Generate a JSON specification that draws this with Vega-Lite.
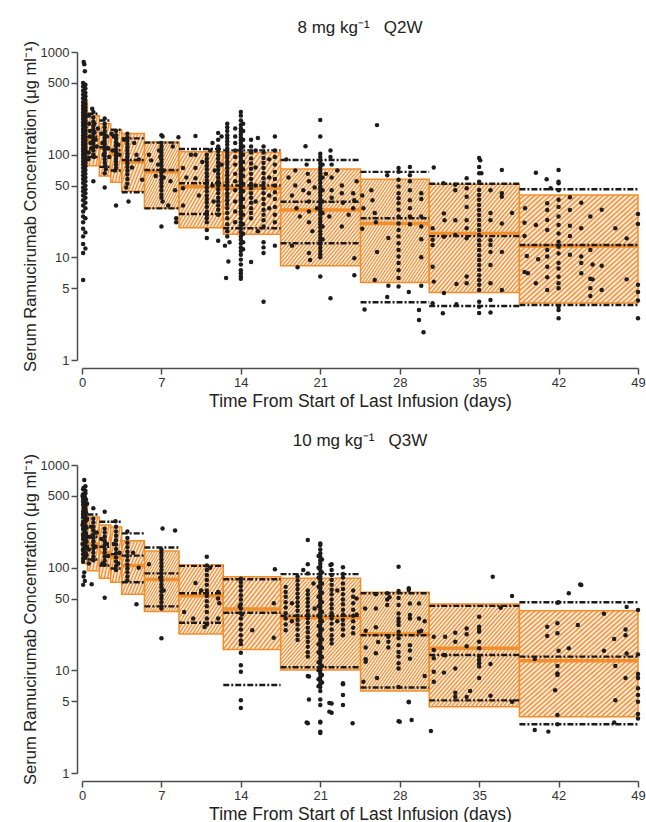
{
"$schema": "https://vega.github.io/schema/vega-lite/v6.json",
"padding": {"left": 22, "top": 18, "right": 5, "bottom": 0},
"spacing": 21,
"config": {
 "view": {"stroke": null},
 "axis": {"grid": false, "domainColor": "#4d4d4d", "domainWidth": 1.5, "tickColor": "#4d4d4d", "tickWidth": 1.5, "tickSize": 6, "labelFont": "Liberation Sans", "labelFontSize": 13, "labelColor": "#333333", "labelPadding": 2, "labelOverlap": false, "labelFlush": false, "titleFont": "Liberation Sans", "titleFontWeight": "normal", "titleColor": "#222222", "titlePadding": 5},
 "axisX": {"titleFontSize": 17.5, "titlePadding": 3},
 "axisY": {"titleFontSize": 16.5, "titlePadding": 2},
 "title": {"font": "Liberation Sans", "fontSize": 17, "fontWeight": "normal", "color": "#222222", "offset": 4, "anchor": "middle"}
},
"datasets": {
 "box1": [
  {"t0":0,"t1":0.48,"lo":90,"hi":330,"med":200},
  {"t0":0.48,"t1":1.53,"lo":78,"hi":240,"med":140},
  {"t0":1.53,"t1":2.53,"lo":62,"hi":200,"med":115},
  {"t0":2.53,"t1":3.5,"lo":54,"hi":175,"med":100},
  {"t0":3.5,"t1":5.5,"lo":44,"hi":161,"med":85},
  {"t0":5.5,"t1":8.55,"lo":30,"hi":133,"med":68},
  {"t0":8.55,"t1":12.45,"lo":19.4,"hi":107,"med":48.7},
  {"t0":12.45,"t1":17.5,"lo":16.8,"hi":105,"med":47},
  {"t0":17.5,"t1":24.55,"lo":8.3,"hi":72.5,"med":28.9},
  {"t0":24.55,"t1":30.6,"lo":5.7,"hi":57.5,"med":21.4},
  {"t0":30.6,"t1":38.55,"lo":4.55,"hi":51.6,"med":17.1},
  {"t0":38.55,"t1":49,"lo":3.6,"hi":40.5,"med":12.9}
 ],
 "obs1": [
  {"t0":0.48,"t1":1.53,"p5":95,"p50":150,"p95":250},
  {"t0":1.53,"t1":2.53,"p5":76,"p50":118,"p95":215},
  {"t0":2.53,"t1":3.5,"p5":70,"p50":110,"p95":175},
  {"t0":3.5,"t1":5.5,"p5":43,"p50":88.7,"p95":144},
  {"t0":5.5,"t1":8.55,"p5":30,"p50":71,"p95":131},
  {"t0":8.55,"t1":12.45,"p5":26.4,"p50":52.6,"p95":113.5},
  {"t0":12.45,"t1":17.5,"p5":19.2,"p50":50,"p95":110},
  {"t0":17.5,"t1":24.55,"p5":13.7,"p50":34.8,"p95":88.7},
  {"t0":24.55,"t1":30.6,"p5":3.65,"p50":24,"p95":68},
  {"t0":30.6,"t1":38.55,"p5":3.36,"p50":16.1,"p95":52},
  {"t0":38.55,"t1":49,"p5":3.43,"p50":13.2,"p95":46}
 ],
 "box2": [
  {"t0":0,"t1":0.48,"lo":110,"hi":450,"med":250},
  {"t0":0.48,"t1":1.53,"lo":93.5,"hi":311,"med":170},
  {"t0":1.53,"t1":2.53,"lo":79,"hi":260,"med":140},
  {"t0":2.53,"t1":3.5,"lo":72,"hi":249,"med":125},
  {"t0":3.5,"t1":5.5,"lo":55,"hi":183,"med":105},
  {"t0":5.5,"t1":8.55,"lo":37.5,"hi":145,"med":76.5},
  {"t0":8.55,"t1":12.45,"lo":22.6,"hi":106,"med":53.3},
  {"t0":12.45,"t1":17.5,"lo":16,"hi":81.6,"med":39.6},
  {"t0":17.5,"t1":24.55,"lo":10.1,"hi":78.7,"med":32.5},
  {"t0":24.55,"t1":30.6,"lo":6.3,"hi":57.5,"med":22.6},
  {"t0":30.6,"t1":38.55,"lo":4.43,"hi":44.2,"med":16.4},
  {"t0":38.55,"t1":49,"lo":3.54,"hi":38.1,"med":12.4}
 ],
 "obs2": [
  {"t0":0.48,"t1":1.53,"p5":120,"p50":200,"p95":330},
  {"t0":1.53,"t1":2.53,"p5":105,"p50":160,"p95":280},
  {"t0":2.53,"t1":3.5,"p5":98,"p50":135,"p95":280},
  {"t0":3.5,"t1":5.5,"p5":72,"p50":131,"p95":216},
  {"t0":5.5,"t1":8.55,"p5":42,"p50":88,"p95":157},
  {"t0":8.55,"t1":12.45,"p5":29.1,"p50":56.3,"p95":104},
  {"t0":12.45,"t1":17.5,"p5":7.2,"p50":36.4,"p95":77},
  {"t0":17.5,"t1":24.55,"p5":10.7,"p50":34,"p95":86.5},
  {"t0":24.55,"t1":30.6,"p5":6.8,"p50":22,"p95":56.3},
  {"t0":30.6,"t1":38.55,"p5":5.1,"p50":14.1,"p95":42.4},
  {"t0":38.55,"t1":49,"p5":2.98,"p50":13.6,"p95":46}
 ],
 "pts1": [
  {"t":0.15,"c":800},{"t":0.2,"c":760},{"t":0.25,"c":650},
  {"t":0.1,"c":500},{"t":0.1,"c":460},{"t":0.1,"c":420},{"t":0.1,"c":385},{"t":0.1,"c":355},{"t":0.1,"c":325},{"t":0.1,"c":300},{"t":0.1,"c":278},{"t":0.1,"c":258},{"t":0.1,"c":240},{"t":0.1,"c":222},{"t":0.1,"c":206},{"t":0.1,"c":192},{"t":0.1,"c":178},{"t":0.1,"c":166},{"t":0.1,"c":154},{"t":0.1,"c":143},{"t":0.1,"c":133},{"t":0.1,"c":124},{"t":0.1,"c":115},{"t":0.1,"c":107},{"t":0.1,"c":100},{"t":0.1,"c":93},{"t":0.1,"c":86},{"t":0.1,"c":80},{"t":0.1,"c":74},{"t":0.1,"c":68},{"t":0.1,"c":63},{"t":0.1,"c":58},{"t":0.1,"c":53},{"t":0.1,"c":48},{"t":0.1,"c":44},{"t":0.1,"c":40},{"t":0.1,"c":36},{"t":0.1,"c":32},{"t":0.1,"c":28},{"t":0.1,"c":25},{"t":0.1,"c":22},{"t":0.1,"c":19},{"t":0.1,"c":16},{"t":0.1,"c":13.5},{"t":0.1,"c":11},{"t":0.1,"c":6},
  {"t":0.3,"c":480},{"t":0.3,"c":440},{"t":0.3,"c":400},{"t":0.3,"c":370},{"t":0.3,"c":340},{"t":0.3,"c":312},{"t":0.3,"c":288},{"t":0.3,"c":268},{"t":0.3,"c":249},{"t":0.3,"c":231},{"t":0.3,"c":214},{"t":0.3,"c":199},{"t":0.3,"c":185},{"t":0.3,"c":172},{"t":0.3,"c":160},{"t":0.3,"c":148},{"t":0.3,"c":138},{"t":0.3,"c":128},{"t":0.3,"c":119},{"t":0.3,"c":111},{"t":0.3,"c":103},{"t":0.3,"c":96},{"t":0.3,"c":89},{"t":0.3,"c":83},{"t":0.3,"c":77},{"t":0.3,"c":71},{"t":0.3,"c":65},{"t":0.3,"c":60},{"t":0.3,"c":55},{"t":0.3,"c":50},{"t":0.3,"c":46},{"t":0.3,"c":42},{"t":0.3,"c":38},{"t":0.3,"c":34},{"t":0.3,"c":30},{"t":0.3,"c":24},{"t":0.3,"c":17.5},{"t":0.3,"c":12.2},
  {"t":0.6,"c":240},{"t":0.65,"c":200},{"t":0.7,"c":170},{"t":0.7,"c":150},{"t":0.75,"c":130},{"t":0.8,"c":115},{"t":0.6,"c":105},{"t":0.9,"c":280},{"t":1.0,"c":260},{"t":1.0,"c":230},{"t":1.0,"c":210},{"t":1.0,"c":190},{"t":1.0,"c":175},{"t":1.0,"c":160},{"t":1.0,"c":148},{"t":1.0,"c":138},{"t":1.0,"c":128},{"t":1.0,"c":118},{"t":1.0,"c":110},{"t":1.0,"c":100},{"t":1.05,"c":95},{"t":1.1,"c":200},{"t":1.1,"c":165},{"t":1.2,"c":140},{"t":1.3,"c":120},{"t":1.0,"c":55},{"t":1.4,"c":180},{"t":0.55,"c":90},
  {"t":2.0,"c":225},{"t":2.0,"c":200},{"t":2.0,"c":185},{"t":2.0,"c":170},{"t":2.0,"c":158},{"t":2.0,"c":147},{"t":2.0,"c":137},{"t":2.0,"c":128},{"t":2.0,"c":120},{"t":2.0,"c":112},{"t":2.0,"c":104},{"t":2.0,"c":97},{"t":2.0,"c":90},{"t":2.0,"c":84},{"t":2.05,"c":78},{"t":2.1,"c":72},{"t":2.0,"c":66},{"t":2.0,"c":48},{"t":1.7,"c":160},{"t":1.8,"c":130},{"t":2.3,"c":115},{"t":2.4,"c":95},{"t":1.9,"c":100},{"t":2.2,"c":150},
  {"t":3.0,"c":170},{"t":3.0,"c":155},{"t":3.0,"c":143},{"t":3.0,"c":132},{"t":3.0,"c":122},{"t":3.0,"c":113},{"t":3.0,"c":105},{"t":3.0,"c":98},{"t":3.0,"c":92},{"t":3.0,"c":86},{"t":3.0,"c":80},{"t":3.0,"c":74},{"t":2.9,"c":70},{"t":2.8,"c":150},{"t":3.2,"c":125},{"t":3.3,"c":100},{"t":2.7,"c":110},{"t":3.0,"c":32},{"t":2.6,"c":160},
  {"t":4.0,"c":160},{"t":4.0,"c":148},{"t":4.0,"c":137},{"t":4.0,"c":127},{"t":4.0,"c":118},{"t":4.0,"c":110},{"t":4.0,"c":102},{"t":4.0,"c":95},{"t":4.0,"c":88},{"t":4.0,"c":82},{"t":4.0,"c":76},{"t":4.0,"c":70},{"t":4.0,"c":64},{"t":4.0,"c":58},{"t":4.0,"c":52},{"t":3.9,"c":48},{"t":4.1,"c":35},{"t":4.6,"c":130},{"t":4.8,"c":100},{"t":5.0,"c":90},{"t":5.3,"c":57},{"t":4.4,"c":75},{"t":3.7,"c":140},
  {"t":7.0,"c":155},{"t":7.1,"c":150},{"t":7.0,"c":130},{"t":7.0,"c":120},{"t":7.0,"c":112},{"t":7.0,"c":104},{"t":7.0,"c":97},{"t":7.0,"c":90},{"t":7.0,"c":84},{"t":7.0,"c":78},{"t":7.0,"c":72},{"t":7.0,"c":67},{"t":7.0,"c":62},{"t":7.0,"c":57},{"t":7.0,"c":53},{"t":7.0,"c":49},{"t":7.0,"c":45},{"t":7.0,"c":41},{"t":7.0,"c":38},{"t":7.1,"c":35},{"t":7.0,"c":20},{"t":6.8,"c":110},{"t":6.9,"c":95},{"t":7.2,"c":70},{"t":7.2,"c":60},{"t":5.9,"c":100},{"t":6.1,"c":88},{"t":6.5,"c":62},{"t":6.7,"c":80},{"t":8.3,"c":24},{"t":8.3,"c":22},{"t":8.5,"c":148},{"t":8.0,"c":120},{"t":7.8,"c":55},{"t":7.6,"c":32},{"t":8.2,"c":45},
  {"t":8.9,"c":74},{"t":8.9,"c":47},{"t":8.9,"c":32},{"t":9.2,"c":60},{"t":9.6,"c":100},{"t":10.0,"c":152},{"t":10.0,"c":100},{"t":10.0,"c":74},{"t":10.0,"c":59},{"t":10.3,"c":40},{"t":10.6,"c":85},
  {"t":11.0,"c":100},{"t":11.0,"c":92},{"t":11.0,"c":85},{"t":11.0,"c":78},{"t":11.0,"c":72},{"t":11.0,"c":66},{"t":11.0,"c":61},{"t":11.0,"c":56},{"t":11.0,"c":52},{"t":11.0,"c":48},{"t":11.0,"c":44},{"t":11.0,"c":40},{"t":11.0,"c":37},{"t":11.0,"c":34},{"t":11.0,"c":31},{"t":11.0,"c":28},{"t":11.0,"c":26},{"t":11.0,"c":24},{"t":11.0,"c":22},{"t":11.0,"c":18.5},{"t":11.0,"c":15.4},
  {"t":12.0,"c":163},{"t":12.0,"c":140},{"t":12.0,"c":120},{"t":12.0,"c":108},{"t":12.0,"c":99},{"t":12.0,"c":91},{"t":12.0,"c":84},{"t":12.0,"c":77},{"t":12.0,"c":71},{"t":12.0,"c":65},{"t":12.0,"c":60},{"t":12.0,"c":55},{"t":12.0,"c":50},{"t":12.0,"c":46},{"t":12.0,"c":42},{"t":12.0,"c":38},{"t":12.0,"c":35},{"t":12.0,"c":32},{"t":12.0,"c":29},{"t":12.0,"c":26},
  {"t":11.5,"c":130},{"t":11.5,"c":50},{"t":11.6,"c":35},{"t":12.3,"c":150},{"t":12.3,"c":80},{"t":11.3,"c":110},{"t":11.7,"c":70},{"t":12.0,"c":14.5},
  {"t":12.8,"c":200},{"t":12.8,"c":185},{"t":12.8,"c":170},{"t":12.8,"c":155},{"t":12.8,"c":145},{"t":12.8,"c":135},{"t":12.8,"c":125},{"t":12.8,"c":115},{"t":12.8,"c":107},{"t":12.8,"c":100},{"t":12.8,"c":93},{"t":12.8,"c":86},{"t":12.8,"c":80},{"t":12.8,"c":74},{"t":12.8,"c":68},{"t":12.8,"c":63},{"t":12.8,"c":58},{"t":12.8,"c":54},{"t":12.8,"c":50},{"t":12.8,"c":46},{"t":12.8,"c":42},{"t":12.8,"c":39},{"t":12.8,"c":36},{"t":12.8,"c":33},{"t":12.8,"c":30},{"t":12.8,"c":27},{"t":12.8,"c":24},{"t":12.8,"c":21},{"t":12.8,"c":18},{"t":12.8,"c":16},
  {"t":12.9,"c":9.1},{"t":12.7,"c":6.3},{"t":12.6,"c":13},{"t":13.0,"c":14},
  {"t":13.5,"c":180},{"t":13.5,"c":150},{"t":13.5,"c":130},{"t":13.5,"c":110},{"t":13.5,"c":95},{"t":13.5,"c":80},{"t":13.5,"c":65},{"t":13.5,"c":55},{"t":13.5,"c":45},{"t":13.5,"c":35},{"t":13.5,"c":28},{"t":13.5,"c":22},
  {"t":14.0,"c":260},{"t":14.0,"c":240},{"t":14.0,"c":215},{"t":14.0,"c":195},{"t":14.0,"c":180},{"t":14.0,"c":168},{"t":14.0,"c":157},{"t":14.0,"c":147},{"t":14.0,"c":138},{"t":14.0,"c":130},{"t":14.0,"c":122},{"t":14.0,"c":115},{"t":14.0,"c":108},{"t":14.0,"c":102},{"t":14.0,"c":96},{"t":14.0,"c":91},{"t":14.0,"c":86},{"t":14.0,"c":81},{"t":14.0,"c":77},{"t":14.0,"c":73},{"t":14.0,"c":69},{"t":14.0,"c":65},{"t":14.0,"c":61},{"t":14.0,"c":58},{"t":14.0,"c":55},{"t":14.0,"c":52},{"t":14.0,"c":49},{"t":14.0,"c":46},{"t":14.0,"c":43},{"t":14.0,"c":40},{"t":14.0,"c":38},{"t":14.0,"c":36},{"t":14.0,"c":34},{"t":14.0,"c":32},{"t":14.0,"c":30},{"t":14.0,"c":28},{"t":14.0,"c":26},{"t":14.0,"c":24},{"t":14.0,"c":22},{"t":14.0,"c":20.5},{"t":14.0,"c":19},{"t":14.0,"c":17.5},{"t":14.0,"c":16},{"t":14.0,"c":14.8},{"t":14.0,"c":13.6},{"t":14.0,"c":12.5},{"t":14.0,"c":11.5},{"t":14.0,"c":10.6},{"t":14.0,"c":9.5},{"t":14.0,"c":8.5},{"t":14.0,"c":7.5},{"t":14.0,"c":7.0},{"t":14.0,"c":6.5},{"t":14.0,"c":6.2},
  {"t":14.2,"c":200},{"t":14.2,"c":170},{"t":14.2,"c":140},{"t":14.2,"c":120},{"t":14.2,"c":100},{"t":14.2,"c":85},{"t":14.2,"c":72},{"t":14.2,"c":62},{"t":14.2,"c":52},{"t":14.2,"c":44},{"t":14.2,"c":37},{"t":14.2,"c":31},{"t":14.2,"c":26},{"t":14.2,"c":21},{"t":14.2,"c":17},{"t":14.2,"c":14},{"t":14.2,"c":12},
  {"t":14.9,"c":140},{"t":14.9,"c":120},{"t":14.9,"c":105},{"t":14.9,"c":92},{"t":14.9,"c":82},{"t":14.9,"c":73},{"t":14.9,"c":65},{"t":14.9,"c":58},{"t":14.9,"c":52},{"t":14.9,"c":47},{"t":14.9,"c":42},{"t":14.9,"c":38},{"t":14.9,"c":34},{"t":14.9,"c":30},{"t":14.9,"c":27},{"t":14.9,"c":24},{"t":14.9,"c":9},
  {"t":15.3,"c":110},{"t":15.3,"c":75},{"t":15.3,"c":50},{"t":15.3,"c":35},{"t":15.5,"c":145},{"t":15.5,"c":18},
  {"t":16.0,"c":120},{"t":16.0,"c":105},{"t":16.0,"c":93},{"t":16.0,"c":83},{"t":16.0,"c":74},{"t":16.0,"c":66},{"t":16.0,"c":59},{"t":16.0,"c":53},{"t":16.0,"c":47},{"t":16.0,"c":42},{"t":16.0,"c":37},{"t":16.0,"c":33},{"t":16.0,"c":29},{"t":16.0,"c":26},{"t":16.0,"c":23},{"t":16.0,"c":20},{"t":16.0,"c":14},{"t":16.0,"c":12.5},{"t":16.0,"c":11},{"t":16.0,"c":3.7},
  {"t":16.5,"c":90},{"t":16.5,"c":60},{"t":16.5,"c":40},{"t":16.5,"c":30},
  {"t":17.0,"c":150},{"t":17.0,"c":110},{"t":17.0,"c":95},{"t":17.0,"c":80},{"t":17.0,"c":68},{"t":17.0,"c":58},{"t":17.0,"c":50},{"t":17.0,"c":43},{"t":17.0,"c":37},{"t":17.0,"c":31},{"t":17.0,"c":26},{"t":17.0,"c":22},{"t":17.0,"c":13},
  {"t":18.0,"c":90},{"t":18.2,"c":60},{"t":18.5,"c":40},{"t":18.8,"c":70},{"t":18.8,"c":50},{"t":18.9,"c":30},{"t":19.2,"c":25},{"t":19.5,"c":45},{"t":19.7,"c":121},{"t":19.8,"c":80},{"t":19.9,"c":65},{"t":20.0,"c":55},{"t":20.0,"c":42},{"t":20.0,"c":35},{"t":20.0,"c":28},{"t":20.0,"c":22},{"t":20.0,"c":11},{"t":20.1,"c":9.4},{"t":20.3,"c":18},{"t":20.5,"c":48},
  {"t":21.0,"c":218},{"t":21.0,"c":150},{"t":21.0,"c":102},{"t":21.0,"c":95},{"t":21.0,"c":88},{"t":21.0,"c":82},{"t":21.0,"c":76},{"t":21.0,"c":71},{"t":21.0,"c":66},{"t":21.0,"c":61},{"t":21.0,"c":57},{"t":21.0,"c":53},{"t":21.0,"c":49},{"t":21.0,"c":46},{"t":21.0,"c":43},{"t":21.0,"c":40},{"t":21.0,"c":37},{"t":21.0,"c":34},{"t":21.0,"c":32},{"t":21.0,"c":30},{"t":21.0,"c":28},{"t":21.0,"c":26},{"t":21.0,"c":24},{"t":21.0,"c":22.5},{"t":21.0,"c":21},{"t":21.0,"c":19.5},{"t":21.0,"c":18},{"t":21.0,"c":16.7},{"t":21.0,"c":15.5},{"t":21.0,"c":14.4},{"t":21.0,"c":13.4},{"t":21.0,"c":12.4},{"t":21.0,"c":11.5},{"t":21.0,"c":10.7},{"t":21.0,"c":10},{"t":21.0,"c":6.5},
  {"t":21.2,"c":80},{"t":21.2,"c":60},{"t":21.2,"c":45},{"t":21.2,"c":35},{"t":21.2,"c":27},{"t":21.2,"c":20},{"t":21.2,"c":15},
  {"t":21.9,"c":110},{"t":21.9,"c":95},{"t":22.0,"c":80},{"t":22.0,"c":60},{"t":22.0,"c":45},{"t":22.0,"c":38},{"t":21.9,"c":4.0},{"t":21.8,"c":25},{"t":22.9,"c":50},{"t":22.9,"c":42},{"t":23.0,"c":34},{"t":22.9,"c":20},{"t":23.9,"c":42},{"t":24.0,"c":36},{"t":23.9,"c":30},{"t":24.0,"c":6.7},{"t":24.0,"c":9.8},{"t":23.5,"c":26},{"t":22.5,"c":70},{"t":24.2,"c":55},{"t":21.5,"c":65},{"t":20.7,"c":30},{"t":18.5,"c":13},{"t":19.0,"c":8},
  {"t":24.7,"c":40},{"t":24.8,"c":30},{"t":24.7,"c":19},{"t":24.9,"c":3.1},{"t":25.5,"c":45},{"t":25.6,"c":36},{"t":25.8,"c":27},{"t":25.9,"c":22},{"t":26.0,"c":11.3},{"t":25.8,"c":6.0},{"t":26.0,"c":194},{"t":26.9,"c":63},{"t":27.0,"c":15.4},{"t":27.0,"c":5.3},{"t":26.9,"c":4.1},
  {"t":27.9,"c":74},{"t":27.9,"c":68},{"t":27.9,"c":57},{"t":27.9,"c":49},{"t":27.9,"c":42},{"t":27.9,"c":37.6},{"t":27.9,"c":33.6},{"t":27.9,"c":29},{"t":27.9,"c":25},{"t":27.9,"c":21.4},{"t":27.9,"c":18.5},{"t":27.9,"c":16},{"t":27.9,"c":13.7},{"t":27.9,"c":11.8},{"t":27.9,"c":10.2},{"t":27.9,"c":8.8},{"t":27.9,"c":7.5},{"t":27.9,"c":6.3},{"t":27.9,"c":5.2},
  {"t":28.9,"c":76},{"t":28.9,"c":63},{"t":28.9,"c":55},{"t":28.9,"c":45},{"t":28.9,"c":36},{"t":28.9,"c":30},{"t":28.9,"c":25},{"t":28.9,"c":21},{"t":28.8,"c":4.6},{"t":29.7,"c":3.07},{"t":29.7,"c":2.45},{"t":30.1,"c":1.86},
  {"t":29.9,"c":42},{"t":29.9,"c":37},{"t":29.9,"c":25},{"t":29.9,"c":20},{"t":29.9,"c":15},{"t":29.9,"c":10},{"t":29.9,"c":5.3},
  {"t":31.0,"c":75},{"t":30.9,"c":19.2},{"t":30.9,"c":14.8},{"t":30.9,"c":13.2},{"t":30.9,"c":8.1},{"t":31.0,"c":5.8},{"t":30.9,"c":3.57},{"t":31.85,"c":52.6},{"t":31.9,"c":26.8},{"t":31.95,"c":23},{"t":31.9,"c":15.9},{"t":31.9,"c":4.5},{"t":31.8,"c":2.85},{"t":32.9,"c":51},{"t":32.9,"c":45},{"t":32.9,"c":23},{"t":32.9,"c":16.5},{"t":33.0,"c":5.5},{"t":33.0,"c":3.5},
  {"t":33.9,"c":58.8},{"t":33.9,"c":47},{"t":33.9,"c":39},{"t":33.9,"c":31},{"t":33.9,"c":23},{"t":33.9,"c":19.2},{"t":33.9,"c":15.3},{"t":33.9,"c":6.5},{"t":33.9,"c":5.6},
  {"t":35.0,"c":93},{"t":35.0,"c":76},{"t":35.0,"c":65.8},{"t":35.0,"c":54.6},{"t":35.0,"c":45.2},{"t":35.0,"c":40.4},{"t":35.0,"c":36.3},{"t":35.0,"c":32.3},{"t":35.0,"c":28.9},{"t":35.0,"c":25.9},{"t":35.0,"c":23.1},{"t":35.0,"c":20.7},{"t":35.0,"c":18.5},{"t":35.0,"c":16.5},{"t":35.0,"c":14.7},{"t":35.0,"c":13.2},{"t":35.0,"c":11.8},{"t":35.0,"c":10.5},{"t":35.0,"c":9.4},{"t":35.0,"c":8.4},{"t":35.0,"c":7.55},{"t":35.0,"c":6.7},{"t":35.0,"c":6.0},{"t":35.0,"c":5.4},{"t":35.0,"c":4.8},{"t":35.0,"c":3.7},{"t":35.0,"c":3.3},{"t":35.0,"c":2.87},
  {"t":36.0,"c":45},{"t":36.0,"c":27},{"t":36.0,"c":23},{"t":36.0,"c":14.7},{"t":36.0,"c":13.2},{"t":36.0,"c":11.3},{"t":36.0,"c":8.4},{"t":36.0,"c":5.6},{"t":36.0,"c":3.84},{"t":36.0,"c":2.9},
  {"t":37.0,"c":71},{"t":37.0,"c":42},{"t":37.0,"c":39},{"t":37.0,"c":21.4},{"t":37.0,"c":11.3},{"t":37.0,"c":4.8},{"t":37.9,"c":27},{"t":35.2,"c":66},{"t":35.1,"c":88},
  {"t":39.05,"c":30},{"t":39.0,"c":21.7},{"t":39.0,"c":16.1},{"t":39.0,"c":7.2},{"t":39.3,"c":7.0},{"t":39.2,"c":10.3},{"t":40.0,"c":66.7},{"t":40.0,"c":20.7},{"t":40.0,"c":5.6},{"t":40.2,"c":9.6},{"t":40.95,"c":57.7},
  {"t":41.0,"c":33.6},{"t":41.0,"c":28.9},{"t":41.0,"c":23.1},{"t":41.0,"c":18.5},{"t":41.0,"c":11.8},{"t":41.0,"c":10.2},{"t":41.0,"c":8.1},{"t":41.0,"c":6.4},{"t":41.0,"c":4.8},
  {"t":42.0,"c":71},{"t":42.0,"c":54.6},{"t":42.0,"c":45},{"t":42.0,"c":36.3},{"t":42.0,"c":31},{"t":42.0,"c":25},{"t":42.0,"c":20.7},{"t":42.0,"c":17.1},{"t":42.0,"c":14.2},{"t":42.0,"c":12.7},{"t":42.0,"c":10.9},{"t":42.0,"c":8.8},{"t":42.0,"c":7.8},{"t":42.0,"c":6.47},{"t":42.0,"c":5.6},{"t":42.0,"c":5.0},{"t":42.0,"c":3.3},{"t":42.0,"c":3.07},{"t":42.0,"c":2.55},{"t":42.0,"c":52.6},
  {"t":43.0,"c":38.4},{"t":43.0,"c":28.9},{"t":43.0,"c":20.3},{"t":43.0,"c":16.1},{"t":43.0,"c":10.6},
  {"t":44.0,"c":34},{"t":44.0,"c":19.2},{"t":44.0,"c":10.2},{"t":44.0,"c":8.8},{"t":44.0,"c":7.0},
  {"t":44.8,"c":25},{"t":44.8,"c":11.8},{"t":44.8,"c":6.2},{"t":44.8,"c":5.0},{"t":44.8,"c":4.2},
  {"t":45.0,"c":8.5},{"t":45.0,"c":6.1},{"t":45.8,"c":29},{"t":45.8,"c":8.3},{"t":45.8,"c":4.8},{"t":47.0,"c":19.2},{"t":48.0,"c":15.3},{"t":48.0,"c":6.1},{"t":49.0,"c":26.4},{"t":49.0,"c":21.1},{"t":49.0,"c":5.4},{"t":49.0,"c":4.6},{"t":49.0,"c":3.8},{"t":49.0,"c":2.55},{"t":41.3,"c":47}
 ],
 "pts2": [
  {"t":0.2,"c":714},{"t":0.15,"c":600},{"t":0.3,"c":560},{"t":0.1,"c":520},{"t":0.25,"c":490},{"t":0.35,"c":460},{"t":0.1,"c":440},{"t":0.2,"c":420},{"t":0.3,"c":400},{"t":0.15,"c":380},{"t":0.25,"c":360},{"t":0.35,"c":345},{"t":0.1,"c":330},{"t":0.2,"c":315},{"t":0.3,"c":300},{"t":0.4,"c":290},{"t":0.1,"c":280},{"t":0.2,"c":268},{"t":0.3,"c":256},{"t":0.4,"c":245},{"t":0.15,"c":235},{"t":0.25,"c":225},{"t":0.35,"c":215},{"t":0.1,"c":205},{"t":0.2,"c":196},{"t":0.3,"c":188},{"t":0.4,"c":180},{"t":0.15,"c":172},{"t":0.25,"c":165},{"t":0.35,"c":158},{"t":0.1,"c":151},{"t":0.2,"c":145},{"t":0.3,"c":139},{"t":0.4,"c":133},{"t":0.2,"c":128},{"t":0.1,"c":114},{"t":0.2,"c":90},{"t":0.15,"c":82},{"t":0.25,"c":74},{"t":0.1,"c":68},{"t":0.05,"c":500},{"t":0.45,"c":420},{"t":0.45,"c":300},{"t":0.45,"c":200},{"t":0.45,"c":160},{"t":0.05,"c":260},{"t":0.05,"c":170},
  {"t":0.3,"c":620},{"t":0.3,"c":530},{"t":0.3,"c":470},{"t":0.3,"c":430},{"t":0.3,"c":370},{"t":0.3,"c":325},{"t":0.3,"c":285},{"t":0.3,"c":250},{"t":0.3,"c":220},{"t":0.3,"c":195},{"t":0.3,"c":175},{"t":0.3,"c":155},{"t":0.3,"c":140},{"t":0.3,"c":125},
  {"t":0.1,"c":580},{"t":0.1,"c":470},{"t":0.1,"c":410},{"t":0.1,"c":350},{"t":0.1,"c":310},{"t":0.1,"c":272},{"t":0.1,"c":240},{"t":0.1,"c":212},{"t":0.1,"c":190},{"t":0.1,"c":168},{"t":0.1,"c":148},{"t":0.1,"c":135},{"t":0.1,"c":122},
  {"t":1.0,"c":380},{"t":1.0,"c":300},{"t":1.0,"c":275},{"t":1.0,"c":250},{"t":1.0,"c":230},{"t":1.0,"c":210},{"t":1.0,"c":195},{"t":1.0,"c":180},{"t":1.0,"c":165},{"t":1.0,"c":152},{"t":1.0,"c":140},{"t":1.0,"c":128},{"t":1.0,"c":118},{"t":0.85,"c":69},{"t":0.7,"c":200},{"t":0.6,"c":150},{"t":0.8,"c":250},{"t":1.2,"c":160},{"t":1.3,"c":220},{"t":0.6,"c":110},
  {"t":2.0,"c":350},{"t":2.0,"c":240},{"t":2.0,"c":220},{"t":2.0,"c":200},{"t":2.0,"c":182},{"t":2.0,"c":166},{"t":2.0,"c":152},{"t":2.0,"c":140},{"t":2.0,"c":128},{"t":2.0,"c":117},{"t":2.0,"c":107},{"t":2.0,"c":51},{"t":1.7,"c":190},{"t":2.3,"c":130},{"t":2.2,"c":170},{"t":1.8,"c":110},
  {"t":2.95,"c":283},{"t":3.0,"c":250},{"t":3.0,"c":225},{"t":3.0,"c":205},{"t":3.0,"c":185},{"t":3.0,"c":168},{"t":3.0,"c":152},{"t":3.0,"c":138},{"t":3.0,"c":126},{"t":3.0,"c":115},{"t":3.0,"c":104},{"t":3.0,"c":95},{"t":3.2,"c":110},{"t":2.8,"c":170},{"t":3.3,"c":140},
  {"t":4.0,"c":225},{"t":4.0,"c":195},{"t":4.0,"c":175},{"t":4.0,"c":158},{"t":4.0,"c":143},{"t":4.0,"c":130},{"t":4.0,"c":118},{"t":4.0,"c":107},{"t":4.0,"c":98},{"t":4.0,"c":90},{"t":4.0,"c":82},{"t":4.0,"c":75},{"t":4.8,"c":44},{"t":4.5,"c":140},{"t":5.0,"c":100},
  {"t":7.0,"c":150},{"t":7.0,"c":140},{"t":7.0,"c":130},{"t":7.0,"c":120},{"t":7.0,"c":111},{"t":7.0,"c":103},{"t":7.0,"c":95},{"t":7.0,"c":88},{"t":7.0,"c":81},{"t":7.0,"c":75},{"t":7.0,"c":69},{"t":7.0,"c":64},{"t":7.0,"c":59},{"t":7.0,"c":54},{"t":7.0,"c":50},{"t":7.0,"c":46},{"t":7.0,"c":42},{"t":7.0,"c":40},{"t":7.0,"c":20.5},{"t":7.1,"c":241},{"t":8.2,"c":230},{"t":5.9,"c":108},{"t":6.9,"c":80},{"t":7.2,"c":60},
  {"t":9.0,"c":37},{"t":10.0,"c":71},{"t":9.8,"c":32},{"t":11.0,"c":128},{"t":11.0,"c":105},{"t":11.0,"c":95},{"t":11.0,"c":85},{"t":11.0,"c":76},{"t":11.0,"c":68},{"t":11.0,"c":60},{"t":11.0,"c":53},{"t":11.0,"c":47},{"t":11.0,"c":42},{"t":11.0,"c":37},{"t":11.0,"c":32},{"t":11.0,"c":28},{"t":10.8,"c":26.4},{"t":12.0,"c":58},{"t":12.0,"c":50},{"t":12.0,"c":32},{"t":12.1,"c":45},{"t":11.3,"c":100},{"t":10.5,"c":60},
  {"t":14.0,"c":78},{"t":14.0,"c":72},{"t":14.0,"c":66},{"t":14.0,"c":60},{"t":14.0,"c":54},{"t":14.0,"c":49},{"t":14.0,"c":44},{"t":14.0,"c":40},{"t":14.0,"c":36},{"t":14.0,"c":32},{"t":14.0,"c":28},{"t":14.0,"c":25},{"t":14.0,"c":22},{"t":14.0,"c":19.5},{"t":14.0,"c":18},{"t":14.0,"c":14.8},{"t":14.0,"c":11.2},{"t":14.0,"c":9.7},{"t":14.0,"c":5.1},{"t":14.0,"c":4.3},{"t":15.0,"c":24.6},{"t":16.9,"c":45},{"t":16.9,"c":20.8},{"t":17.0,"c":96.7},{"t":13.9,"c":42},{"t":14.1,"c":35},
  {"t":21.0,"c":172},{"t":21.0,"c":166},{"t":21.0,"c":150},{"t":21.0,"c":138},{"t":21.0,"c":128},{"t":21.0,"c":118},{"t":21.0,"c":110},{"t":21.0,"c":102},{"t":21.0,"c":95},{"t":21.0,"c":88},{"t":21.0,"c":82},{"t":21.0,"c":77},{"t":21.0,"c":72},{"t":21.0,"c":67},{"t":21.0,"c":63},{"t":21.0,"c":59},{"t":21.0,"c":55},{"t":21.0,"c":51},{"t":21.0,"c":48},{"t":21.0,"c":45},{"t":21.0,"c":42},{"t":21.0,"c":39},{"t":21.0,"c":36.5},{"t":21.0,"c":34},{"t":21.0,"c":32},{"t":21.0,"c":30},{"t":21.0,"c":28},{"t":21.0,"c":26},{"t":21.0,"c":24.5},{"t":21.0,"c":23},{"t":21.0,"c":21.5},{"t":21.0,"c":20},{"t":21.0,"c":18.7},{"t":21.0,"c":17.5},{"t":21.0,"c":16.3},{"t":21.0,"c":15.2},{"t":21.0,"c":14.2},{"t":21.0,"c":13.2},{"t":21.0,"c":12.3},{"t":21.0,"c":11.5},{"t":21.0,"c":10.7},{"t":21.0,"c":10},{"t":21.0,"c":9.3},{"t":21.0,"c":8.6},{"t":21.0,"c":8},{"t":21.0,"c":7.4},{"t":21.0,"c":6.9},{"t":21.0,"c":6.3},{"t":21.0,"c":5.2},{"t":21.0,"c":4.6},{"t":21.0,"c":3.16},{"t":21.0,"c":3.1},{"t":21.0,"c":2.53},{"t":21.0,"c":2.45},
  {"t":20.85,"c":130},{"t":20.85,"c":100},{"t":20.85,"c":80},{"t":20.85,"c":65},{"t":20.85,"c":52},{"t":20.85,"c":42},{"t":20.85,"c":34},{"t":20.85,"c":27},{"t":20.85,"c":22},{"t":20.85,"c":18},{"t":20.85,"c":15},{"t":20.85,"c":12},{"t":20.85,"c":10},{"t":20.85,"c":8.2},{"t":20.85,"c":7},
  {"t":21.15,"c":120},{"t":21.15,"c":90},{"t":21.15,"c":70},{"t":21.15,"c":57},{"t":21.15,"c":46},{"t":21.15,"c":37},{"t":21.15,"c":30},{"t":21.15,"c":25},{"t":21.15,"c":20},{"t":21.15,"c":16.5},{"t":21.15,"c":13.5},{"t":21.15,"c":11},{"t":21.15,"c":9},{"t":21.15,"c":7.6},
  {"t":19.9,"c":186},{"t":19.9,"c":108},{"t":19.9,"c":88},{"t":19.9,"c":60},{"t":19.9,"c":55},{"t":19.9,"c":50},{"t":19.9,"c":46},{"t":19.9,"c":42},{"t":19.9,"c":38},{"t":19.9,"c":35},{"t":19.9,"c":32},{"t":19.9,"c":29},{"t":19.9,"c":26},{"t":19.9,"c":23.5},{"t":19.9,"c":21},{"t":19.9,"c":19},{"t":19.9,"c":17},{"t":19.9,"c":15},{"t":19.9,"c":13.6},{"t":19.9,"c":8.8},{"t":20.0,"c":8.7},{"t":20.0,"c":5.2},{"t":19.8,"c":3.1},{"t":19.9,"c":3.05},
  {"t":19.0,"c":82},{"t":19.0,"c":75},{"t":19.0,"c":68},{"t":19.0,"c":62},{"t":19.0,"c":56},{"t":19.0,"c":51},{"t":19.0,"c":46},{"t":19.0,"c":42},{"t":19.0,"c":38},{"t":19.0,"c":34},{"t":19.0,"c":31},{"t":19.0,"c":28},{"t":19.0,"c":25},{"t":19.0,"c":22},{"t":19.0,"c":19.8},
  {"t":17.95,"c":65},{"t":17.95,"c":58},{"t":17.95,"c":52},{"t":17.95,"c":46},{"t":17.95,"c":41},{"t":17.95,"c":36},{"t":17.95,"c":32},{"t":17.95,"c":28},{"t":17.95,"c":24.6},
  {"t":22.0,"c":108},{"t":21.9,"c":106},{"t":22.0,"c":95},{"t":22.0,"c":85},{"t":22.0,"c":76},{"t":22.0,"c":68},{"t":22.0,"c":61},{"t":22.0,"c":55},{"t":22.0,"c":49},{"t":22.0,"c":44},{"t":22.0,"c":40},{"t":22.0,"c":36},{"t":22.0,"c":32},{"t":22.0,"c":28.5},{"t":22.0,"c":25},{"t":22.0,"c":22},{"t":22.0,"c":20},{"t":22.0,"c":18.3},{"t":22.0,"c":4.76},{"t":22.0,"c":3.86},{"t":21.8,"c":4.8},{"t":21.8,"c":3.96},
  {"t":23.0,"c":101},{"t":23.0,"c":86.6},{"t":23.0,"c":80},{"t":23.0,"c":70},{"t":23.0,"c":62},{"t":23.0,"c":55},{"t":23.0,"c":49},{"t":23.0,"c":44},{"t":23.0,"c":39},{"t":23.0,"c":35},{"t":23.0,"c":31},{"t":23.0,"c":28},{"t":23.0,"c":25},{"t":23.0,"c":22},{"t":23.0,"c":7.5},{"t":23.0,"c":5.75},{"t":23.0,"c":4.6},{"t":23.0,"c":7.3},
  {"t":23.9,"c":60},{"t":23.9,"c":52},{"t":23.9,"c":45},{"t":23.9,"c":39},{"t":23.9,"c":34},{"t":23.9,"c":30},{"t":23.9,"c":26},{"t":23.9,"c":23},{"t":23.85,"c":3.05},
  {"t":18.5,"c":45},{"t":18.5,"c":30},{"t":20.4,"c":70},{"t":20.5,"c":40},{"t":22.5,"c":60},{"t":22.5,"c":30},{"t":24.2,"c":50},{"t":24.2,"c":35},{"t":19.5,"c":95},
  {"t":24.95,"c":40},{"t":25.0,"c":24.3},{"t":25.0,"c":16.7},{"t":25.0,"c":12.8},{"t":25.0,"c":12.1},{"t":24.8,"c":7.75},{"t":25.9,"c":55},{"t":25.9,"c":40},{"t":25.9,"c":26.3},{"t":25.9,"c":14.7},{"t":26.0,"c":8.4},{"t":26.1,"c":18.9},{"t":26.9,"c":56.3},{"t":26.9,"c":49},{"t":26.9,"c":43.2},{"t":27.0,"c":21.2},{"t":27.0,"c":19},{"t":27.0,"c":16.7},{"t":27.1,"c":51.4},
  {"t":27.9,"c":102},{"t":27.9,"c":59.3},{"t":27.9,"c":50.6},{"t":27.9,"c":43.2},{"t":27.9,"c":35.8},{"t":27.9,"c":32},{"t":27.9,"c":29.7},{"t":27.9,"c":27.6},{"t":27.9,"c":23.7},{"t":27.9,"c":20.5},{"t":27.9,"c":17.6},{"t":27.9,"c":15.1},{"t":27.9,"c":13.6},{"t":27.9,"c":11.7},{"t":27.9,"c":10.4},{"t":27.9,"c":6.9},{"t":27.9,"c":3.2},{"t":28.0,"c":3.16},
  {"t":28.8,"c":62.9},{"t":28.8,"c":60.5},{"t":28.9,"c":44.8},{"t":28.9,"c":34.6},{"t":28.9,"c":32},{"t":28.9,"c":17.6},{"t":28.9,"c":15.6},{"t":28.9,"c":13},{"t":28.8,"c":4.88},{"t":28.8,"c":4.95},{"t":29.05,"c":3.28},
  {"t":29.7,"c":44.8},{"t":29.7,"c":32},{"t":29.7,"c":23.7},{"t":30.2,"c":30},{"t":30.2,"c":8.8},{"t":29.9,"c":24.3},{"t":30.75,"c":2.56},
  {"t":31.0,"c":15.8},{"t":31.0,"c":13.1},{"t":31.0,"c":9.7},{"t":31.0,"c":7.75},{"t":31.0,"c":21.2},{"t":31.9,"c":9.5},{"t":32.0,"c":21.2},{"t":31.9,"c":14.1},{"t":32.0,"c":14.0},{"t":32.9,"c":19},{"t":32.9,"c":23.2},{"t":32.9,"c":10.4},{"t":32.9,"c":6.05},{"t":32.9,"c":5.5},{"t":33.9,"c":25.6},{"t":33.9,"c":22.5},{"t":33.9,"c":17.2},{"t":33.9,"c":5.5},{"t":34.2,"c":6.3},
  {"t":35.0,"c":33.2},{"t":35.0,"c":26.6},{"t":35.0,"c":24.8},{"t":35.0,"c":23.7},{"t":35.0,"c":19},{"t":35.0,"c":16.4},{"t":35.0,"c":13.6},{"t":35.0,"c":12.6},{"t":35.0,"c":11.7},{"t":35.0,"c":10.9},{"t":35.0,"c":8.4},
  {"t":36.0,"c":11.5},{"t":36.0,"c":5.65},{"t":36.2,"c":81.6},{"t":36.9,"c":40.6},{"t":37.9,"c":53},{"t":37.9,"c":4.95},
  {"t":39.9,"c":12.9},{"t":39.9,"c":2.62},{"t":41.0,"c":26.6},{"t":41.0,"c":21.6},{"t":41.1,"c":2.53},{"t":41.9,"c":45.5},{"t":41.9,"c":28.7},{"t":41.9,"c":23},{"t":41.9,"c":11},{"t":41.9,"c":9.3},{"t":41.9,"c":9.0},{"t":41.7,"c":6.4},{"t":41.9,"c":3.67},{"t":41.9,"c":2.98},{"t":42.0,"c":15.5},{"t":42.9,"c":56.3},{"t":42.9,"c":16.4},{"t":43.7,"c":27.6},{"t":44.0,"c":67.8},{"t":46.0,"c":35.5},{"t":46.0,"c":15.5},{"t":46.9,"c":20.2},{"t":47.0,"c":11},{"t":47.0,"c":5.1},{"t":46.9,"c":3.1},{"t":47.9,"c":25},{"t":47.9,"c":22},{"t":47.9,"c":8.4},{"t":48.0,"c":41.5},{"t":48.0,"c":14.6},{"t":49.0,"c":38.7},{"t":49.0,"c":14.3},{"t":49.0,"c":9.2},{"t":49.0,"c":8.4},{"t":49.0,"c":6.7},{"t":49.0,"c":5.75},{"t":49.0,"c":4.95},{"t":49.0,"c":3.75},{"t":49.0,"c":3.4},{"t":42.0,"c":46},{"t":43.9,"c":68.6}
 ]
},
"vconcat": [
 {
  "width": 556, "height": 308,
  "title": {"text": "8 mg kg⁻¹ \u00a0 Q2W"},
  "layer": [
   {"data": {"name": "box1"}, "transform": [{"filter": "datum.t1 - datum.t0 >= 6"}],
    "mark": {"type": "rect", "stroke": "#f28e2b", "strokeWidth": 1.5, "fill": {"gradient": "linear", "x1": 0, "y1": 0, "x2": 1, "y2": 1, "stops": [
     {"offset":0,"color":"#f0892a"},{"offset":0.0111,"color":"#ffffff"},{"offset":0.0222,"color":"#f0892a"},{"offset":0.0333,"color":"#ffffff"},{"offset":0.0444,"color":"#f0892a"},{"offset":0.0556,"color":"#ffffff"},{"offset":0.0667,"color":"#f0892a"},{"offset":0.0778,"color":"#ffffff"},{"offset":0.0889,"color":"#f0892a"},{"offset":0.1,"color":"#ffffff"},
     {"offset":0.1111,"color":"#f0892a"},{"offset":0.1222,"color":"#ffffff"},{"offset":0.1333,"color":"#f0892a"},{"offset":0.1444,"color":"#ffffff"},{"offset":0.1556,"color":"#f0892a"},{"offset":0.1667,"color":"#ffffff"},{"offset":0.1778,"color":"#f0892a"},{"offset":0.1889,"color":"#ffffff"},{"offset":0.2,"color":"#f0892a"},{"offset":0.2111,"color":"#ffffff"},
     {"offset":0.2222,"color":"#f0892a"},{"offset":0.2333,"color":"#ffffff"},{"offset":0.2444,"color":"#f0892a"},{"offset":0.2556,"color":"#ffffff"},{"offset":0.2667,"color":"#f0892a"},{"offset":0.2778,"color":"#ffffff"},{"offset":0.2889,"color":"#f0892a"},{"offset":0.3,"color":"#ffffff"},{"offset":0.3111,"color":"#f0892a"},{"offset":0.3222,"color":"#ffffff"},
     {"offset":0.3333,"color":"#f0892a"},{"offset":0.3444,"color":"#ffffff"},{"offset":0.3556,"color":"#f0892a"},{"offset":0.3667,"color":"#ffffff"},{"offset":0.3778,"color":"#f0892a"},{"offset":0.3889,"color":"#ffffff"},{"offset":0.4,"color":"#f0892a"},{"offset":0.4111,"color":"#ffffff"},{"offset":0.4222,"color":"#f0892a"},{"offset":0.4333,"color":"#ffffff"},
     {"offset":0.4444,"color":"#f0892a"},{"offset":0.4556,"color":"#ffffff"},{"offset":0.4667,"color":"#f0892a"},{"offset":0.4778,"color":"#ffffff"},{"offset":0.4889,"color":"#f0892a"},{"offset":0.5,"color":"#ffffff"},{"offset":0.5111,"color":"#f0892a"},{"offset":0.5222,"color":"#ffffff"},{"offset":0.5333,"color":"#f0892a"},{"offset":0.5444,"color":"#ffffff"},
     {"offset":0.5556,"color":"#f0892a"},{"offset":0.5667,"color":"#ffffff"},{"offset":0.5778,"color":"#f0892a"},{"offset":0.5889,"color":"#ffffff"},{"offset":0.6,"color":"#f0892a"},{"offset":0.6111,"color":"#ffffff"},{"offset":0.6222,"color":"#f0892a"},{"offset":0.6333,"color":"#ffffff"},{"offset":0.6444,"color":"#f0892a"},{"offset":0.6556,"color":"#ffffff"},
     {"offset":0.6667,"color":"#f0892a"},{"offset":0.6778,"color":"#ffffff"},{"offset":0.6889,"color":"#f0892a"},{"offset":0.7,"color":"#ffffff"},{"offset":0.7111,"color":"#f0892a"},{"offset":0.7222,"color":"#ffffff"},{"offset":0.7333,"color":"#f0892a"},{"offset":0.7444,"color":"#ffffff"},{"offset":0.7556,"color":"#f0892a"},{"offset":0.7667,"color":"#ffffff"},
     {"offset":0.7778,"color":"#f0892a"},{"offset":0.7889,"color":"#ffffff"},{"offset":0.8,"color":"#f0892a"},{"offset":0.8111,"color":"#ffffff"},{"offset":0.8222,"color":"#f0892a"},{"offset":0.8333,"color":"#ffffff"},{"offset":0.8444,"color":"#f0892a"},{"offset":0.8556,"color":"#ffffff"},{"offset":0.8667,"color":"#f0892a"},{"offset":0.8778,"color":"#ffffff"},
     {"offset":0.8889,"color":"#f0892a"},{"offset":0.9,"color":"#ffffff"},{"offset":0.9111,"color":"#f0892a"},{"offset":0.9222,"color":"#ffffff"},{"offset":0.9333,"color":"#f0892a"},{"offset":0.9444,"color":"#ffffff"},{"offset":0.9556,"color":"#f0892a"},{"offset":0.9667,"color":"#ffffff"},{"offset":0.9778,"color":"#f0892a"},{"offset":0.9889,"color":"#ffffff"},{"offset":1,"color":"#f0892a"}]}},
    "encoding": {
     "x": {"field": "t0", "type": "quantitative", "scale": {"domain": [0, 49], "nice": false, "zero": false}, "title": "Time From Start of Last Infusion (days)", "axis": {"values": [0,7,14,21,28,35,42,49], "offset": 8}},
     "x2": {"field": "t1"},
     "y": {"field": "lo", "type": "quantitative", "scale": {"type": "log", "domain": [1, 1000], "nice": false}, "title": "Serum Ramucirumab Concentration (μg ml⁻¹)", "axis": {"values": [1,5,10,50,100,500,1000], "format": "d", "offset": 5}},
     "y2": {"field": "hi"}}},
   {"data": {"name": "box1"}, "transform": [{"filter": "datum.t1 - datum.t0 >= 3 && datum.t1 - datum.t0 < 6"}],
    "mark": {"type": "rect", "stroke": "#f28e2b", "strokeWidth": 1.5, "fill": {"gradient": "linear", "x1": 0, "y1": 0, "x2": 1, "y2": 1, "stops": [
     {"offset":0,"color":"#f0892a"},{"offset":0.0192,"color":"#ffffff"},{"offset":0.0385,"color":"#f0892a"},{"offset":0.0577,"color":"#ffffff"},{"offset":0.0769,"color":"#f0892a"},{"offset":0.0962,"color":"#ffffff"},{"offset":0.1154,"color":"#f0892a"},{"offset":0.1346,"color":"#ffffff"},{"offset":0.1538,"color":"#f0892a"},{"offset":0.1731,"color":"#ffffff"},
     {"offset":0.1923,"color":"#f0892a"},{"offset":0.2115,"color":"#ffffff"},{"offset":0.2308,"color":"#f0892a"},{"offset":0.25,"color":"#ffffff"},{"offset":0.2692,"color":"#f0892a"},{"offset":0.2885,"color":"#ffffff"},{"offset":0.3077,"color":"#f0892a"},{"offset":0.3269,"color":"#ffffff"},{"offset":0.3462,"color":"#f0892a"},{"offset":0.3654,"color":"#ffffff"},
     {"offset":0.3846,"color":"#f0892a"},{"offset":0.4038,"color":"#ffffff"},{"offset":0.4231,"color":"#f0892a"},{"offset":0.4423,"color":"#ffffff"},{"offset":0.4615,"color":"#f0892a"},{"offset":0.4808,"color":"#ffffff"},{"offset":0.5,"color":"#f0892a"},{"offset":0.5192,"color":"#ffffff"},{"offset":0.5385,"color":"#f0892a"},{"offset":0.5577,"color":"#ffffff"},
     {"offset":0.5769,"color":"#f0892a"},{"offset":0.5962,"color":"#ffffff"},{"offset":0.6154,"color":"#f0892a"},{"offset":0.6346,"color":"#ffffff"},{"offset":0.6538,"color":"#f0892a"},{"offset":0.6731,"color":"#ffffff"},{"offset":0.6923,"color":"#f0892a"},{"offset":0.7115,"color":"#ffffff"},{"offset":0.7308,"color":"#f0892a"},{"offset":0.75,"color":"#ffffff"},
     {"offset":0.7692,"color":"#f0892a"},{"offset":0.7885,"color":"#ffffff"},{"offset":0.8077,"color":"#f0892a"},{"offset":0.8269,"color":"#ffffff"},{"offset":0.8462,"color":"#f0892a"},{"offset":0.8654,"color":"#ffffff"},{"offset":0.8846,"color":"#f0892a"},{"offset":0.9038,"color":"#ffffff"},{"offset":0.9231,"color":"#f0892a"},{"offset":0.9423,"color":"#ffffff"},
     {"offset":0.9615,"color":"#f0892a"},{"offset":0.9808,"color":"#ffffff"},{"offset":1,"color":"#f0892a"}]}},
    "encoding": {"x": {"field": "t0", "type": "quantitative", "title": "Time From Start of Last Infusion (days)"}, "x2": {"field": "t1"}, "y": {"field": "lo", "type": "quantitative", "title": "Serum Ramucirumab Concentration (μg ml⁻¹)"}, "y2": {"field": "hi"}}},
   {"data": {"name": "box1"}, "transform": [{"filter": "datum.t1 - datum.t0 >= 1.5 && datum.t1 - datum.t0 < 3"}],
    "mark": {"type": "rect", "stroke": "#f28e2b", "strokeWidth": 1.5, "fill": {"gradient": "linear", "x1": 0, "y1": 0, "x2": 1, "y2": 1, "stops": [
     {"offset":0,"color":"#f0892a"},{"offset":0.0357,"color":"#ffffff"},{"offset":0.0714,"color":"#f0892a"},{"offset":0.1071,"color":"#ffffff"},{"offset":0.1429,"color":"#f0892a"},{"offset":0.1786,"color":"#ffffff"},{"offset":0.2143,"color":"#f0892a"},{"offset":0.25,"color":"#ffffff"},{"offset":0.2857,"color":"#f0892a"},{"offset":0.3214,"color":"#ffffff"},
     {"offset":0.3571,"color":"#f0892a"},{"offset":0.3929,"color":"#ffffff"},{"offset":0.4286,"color":"#f0892a"},{"offset":0.4643,"color":"#ffffff"},{"offset":0.5,"color":"#f0892a"},{"offset":0.5357,"color":"#ffffff"},{"offset":0.5714,"color":"#f0892a"},{"offset":0.6071,"color":"#ffffff"},{"offset":0.6429,"color":"#f0892a"},{"offset":0.6786,"color":"#ffffff"},
     {"offset":0.7143,"color":"#f0892a"},{"offset":0.75,"color":"#ffffff"},{"offset":0.7857,"color":"#f0892a"},{"offset":0.8214,"color":"#ffffff"},{"offset":0.8571,"color":"#f0892a"},{"offset":0.8929,"color":"#ffffff"},{"offset":0.9286,"color":"#f0892a"},{"offset":0.9643,"color":"#ffffff"},{"offset":1,"color":"#f0892a"}]}},
    "encoding": {"x": {"field": "t0", "type": "quantitative", "title": "Time From Start of Last Infusion (days)"}, "x2": {"field": "t1"}, "y": {"field": "lo", "type": "quantitative", "title": "Serum Ramucirumab Concentration (μg ml⁻¹)"}, "y2": {"field": "hi"}}},
   {"data": {"name": "box1"}, "transform": [{"filter": "datum.t1 - datum.t0 < 1.5"}],
    "mark": {"type": "rect", "stroke": "#f28e2b", "strokeWidth": 1.5, "fill": {"gradient": "linear", "x1": 0, "y1": 0, "x2": 1, "y2": 1, "stops": [
     {"offset":0,"color":"#f0892a"},{"offset":0.0714,"color":"#ffffff"},{"offset":0.1429,"color":"#f0892a"},{"offset":0.2143,"color":"#ffffff"},{"offset":0.2857,"color":"#f0892a"},{"offset":0.3571,"color":"#ffffff"},{"offset":0.4286,"color":"#f0892a"},{"offset":0.5,"color":"#ffffff"},{"offset":0.5714,"color":"#f0892a"},{"offset":0.6429,"color":"#ffffff"},
     {"offset":0.7143,"color":"#f0892a"},{"offset":0.7857,"color":"#ffffff"},{"offset":0.8571,"color":"#f0892a"},{"offset":0.9286,"color":"#ffffff"},{"offset":1,"color":"#f0892a"}]}},
    "encoding": {"x": {"field": "t0", "type": "quantitative", "title": "Time From Start of Last Infusion (days)"}, "x2": {"field": "t1"}, "y": {"field": "lo", "type": "quantitative", "title": "Serum Ramucirumab Concentration (μg ml⁻¹)"}, "y2": {"field": "hi"}}},
   {"data": {"name": "box1"}, "mark": {"type": "rule", "color": "#f28e2b", "strokeWidth": 3.5},
    "encoding": {"x": {"field": "t0", "type": "quantitative", "title": "Time From Start of Last Infusion (days)"}, "x2": {"field": "t1"}, "y": {"field": "med", "type": "quantitative", "title": "Serum Ramucirumab Concentration (μg ml⁻¹)"}}},
   {"data": {"name": "obs1"}, "mark": {"type": "rule", "color": "#1a1a1a", "strokeWidth": 2.4, "strokeDash": [6, 2, 2, 2]},
    "encoding": {"x": {"field": "t0", "type": "quantitative", "title": "Time From Start of Last Infusion (days)"}, "x2": {"field": "t1"}, "y": {"field": "p5", "type": "quantitative", "title": "Serum Ramucirumab Concentration (μg ml⁻¹)"}}},
   {"data": {"name": "obs1"}, "mark": {"type": "rule", "color": "#1a1a1a", "strokeWidth": 2.4, "strokeDash": [6, 2, 2, 2]},
    "encoding": {"x": {"field": "t0", "type": "quantitative", "title": "Time From Start of Last Infusion (days)"}, "x2": {"field": "t1"}, "y": {"field": "p50", "type": "quantitative", "title": "Serum Ramucirumab Concentration (μg ml⁻¹)"}}},
   {"data": {"name": "obs1"}, "mark": {"type": "rule", "color": "#1a1a1a", "strokeWidth": 2.4, "strokeDash": [6, 2, 2, 2]},
    "encoding": {"x": {"field": "t0", "type": "quantitative", "title": "Time From Start of Last Infusion (days)"}, "x2": {"field": "t1"}, "y": {"field": "p95", "type": "quantitative", "title": "Serum Ramucirumab Concentration (μg ml⁻¹)"}}},
   {"data": {"name": "pts1"}, "mark": {"type": "circle", "size": 20, "color": "#1c1c1c", "opacity": 1},
    "encoding": {"x": {"field": "t", "type": "quantitative", "title": "Time From Start of Last Infusion (days)"}, "y": {"field": "c", "type": "quantitative", "title": "Serum Ramucirumab Concentration (μg ml⁻¹)"}}}
  ]
 },
 {
  "width": 556, "height": 308,
  "title": {"text": "10 mg kg⁻¹ \u00a0 Q3W"},
  "layer": [
   {"data": {"name": "box2"}, "transform": [{"filter": "datum.t1 - datum.t0 >= 6"}],
    "mark": {"type": "rect", "stroke": "#f28e2b", "strokeWidth": 1.5, "fill": {"gradient": "linear", "x1": 0, "y1": 0, "x2": 1, "y2": 1, "stops": [
     {"offset":0,"color":"#f0892a"},{"offset":0.0111,"color":"#ffffff"},{"offset":0.0222,"color":"#f0892a"},{"offset":0.0333,"color":"#ffffff"},{"offset":0.0444,"color":"#f0892a"},{"offset":0.0556,"color":"#ffffff"},{"offset":0.0667,"color":"#f0892a"},{"offset":0.0778,"color":"#ffffff"},{"offset":0.0889,"color":"#f0892a"},{"offset":0.1,"color":"#ffffff"},
     {"offset":0.1111,"color":"#f0892a"},{"offset":0.1222,"color":"#ffffff"},{"offset":0.1333,"color":"#f0892a"},{"offset":0.1444,"color":"#ffffff"},{"offset":0.1556,"color":"#f0892a"},{"offset":0.1667,"color":"#ffffff"},{"offset":0.1778,"color":"#f0892a"},{"offset":0.1889,"color":"#ffffff"},{"offset":0.2,"color":"#f0892a"},{"offset":0.2111,"color":"#ffffff"},
     {"offset":0.2222,"color":"#f0892a"},{"offset":0.2333,"color":"#ffffff"},{"offset":0.2444,"color":"#f0892a"},{"offset":0.2556,"color":"#ffffff"},{"offset":0.2667,"color":"#f0892a"},{"offset":0.2778,"color":"#ffffff"},{"offset":0.2889,"color":"#f0892a"},{"offset":0.3,"color":"#ffffff"},{"offset":0.3111,"color":"#f0892a"},{"offset":0.3222,"color":"#ffffff"},
     {"offset":0.3333,"color":"#f0892a"},{"offset":0.3444,"color":"#ffffff"},{"offset":0.3556,"color":"#f0892a"},{"offset":0.3667,"color":"#ffffff"},{"offset":0.3778,"color":"#f0892a"},{"offset":0.3889,"color":"#ffffff"},{"offset":0.4,"color":"#f0892a"},{"offset":0.4111,"color":"#ffffff"},{"offset":0.4222,"color":"#f0892a"},{"offset":0.4333,"color":"#ffffff"},
     {"offset":0.4444,"color":"#f0892a"},{"offset":0.4556,"color":"#ffffff"},{"offset":0.4667,"color":"#f0892a"},{"offset":0.4778,"color":"#ffffff"},{"offset":0.4889,"color":"#f0892a"},{"offset":0.5,"color":"#ffffff"},{"offset":0.5111,"color":"#f0892a"},{"offset":0.5222,"color":"#ffffff"},{"offset":0.5333,"color":"#f0892a"},{"offset":0.5444,"color":"#ffffff"},
     {"offset":0.5556,"color":"#f0892a"},{"offset":0.5667,"color":"#ffffff"},{"offset":0.5778,"color":"#f0892a"},{"offset":0.5889,"color":"#ffffff"},{"offset":0.6,"color":"#f0892a"},{"offset":0.6111,"color":"#ffffff"},{"offset":0.6222,"color":"#f0892a"},{"offset":0.6333,"color":"#ffffff"},{"offset":0.6444,"color":"#f0892a"},{"offset":0.6556,"color":"#ffffff"},
     {"offset":0.6667,"color":"#f0892a"},{"offset":0.6778,"color":"#ffffff"},{"offset":0.6889,"color":"#f0892a"},{"offset":0.7,"color":"#ffffff"},{"offset":0.7111,"color":"#f0892a"},{"offset":0.7222,"color":"#ffffff"},{"offset":0.7333,"color":"#f0892a"},{"offset":0.7444,"color":"#ffffff"},{"offset":0.7556,"color":"#f0892a"},{"offset":0.7667,"color":"#ffffff"},
     {"offset":0.7778,"color":"#f0892a"},{"offset":0.7889,"color":"#ffffff"},{"offset":0.8,"color":"#f0892a"},{"offset":0.8111,"color":"#ffffff"},{"offset":0.8222,"color":"#f0892a"},{"offset":0.8333,"color":"#ffffff"},{"offset":0.8444,"color":"#f0892a"},{"offset":0.8556,"color":"#ffffff"},{"offset":0.8667,"color":"#f0892a"},{"offset":0.8778,"color":"#ffffff"},
     {"offset":0.8889,"color":"#f0892a"},{"offset":0.9,"color":"#ffffff"},{"offset":0.9111,"color":"#f0892a"},{"offset":0.9222,"color":"#ffffff"},{"offset":0.9333,"color":"#f0892a"},{"offset":0.9444,"color":"#ffffff"},{"offset":0.9556,"color":"#f0892a"},{"offset":0.9667,"color":"#ffffff"},{"offset":0.9778,"color":"#f0892a"},{"offset":0.9889,"color":"#ffffff"},{"offset":1,"color":"#f0892a"}]}},
    "encoding": {
     "x": {"field": "t0", "type": "quantitative", "scale": {"domain": [0, 49], "nice": false, "zero": false}, "title": "Time From Start of Last Infusion (days)", "axis": {"values": [0,7,14,21,28,35,42,49], "offset": 8}},
     "x2": {"field": "t1"},
     "y": {"field": "lo", "type": "quantitative", "scale": {"type": "log", "domain": [1, 1000], "nice": false}, "title": "Serum Ramucirumab Concentration (μg ml⁻¹)", "axis": {"values": [1,5,10,50,100,500,1000], "format": "d", "offset": 5}},
     "y2": {"field": "hi"}}},
   {"data": {"name": "box2"}, "transform": [{"filter": "datum.t1 - datum.t0 >= 3 && datum.t1 - datum.t0 < 6"}],
    "mark": {"type": "rect", "stroke": "#f28e2b", "strokeWidth": 1.5, "fill": {"gradient": "linear", "x1": 0, "y1": 0, "x2": 1, "y2": 1, "stops": [
     {"offset":0,"color":"#f0892a"},{"offset":0.0192,"color":"#ffffff"},{"offset":0.0385,"color":"#f0892a"},{"offset":0.0577,"color":"#ffffff"},{"offset":0.0769,"color":"#f0892a"},{"offset":0.0962,"color":"#ffffff"},{"offset":0.1154,"color":"#f0892a"},{"offset":0.1346,"color":"#ffffff"},{"offset":0.1538,"color":"#f0892a"},{"offset":0.1731,"color":"#ffffff"},
     {"offset":0.1923,"color":"#f0892a"},{"offset":0.2115,"color":"#ffffff"},{"offset":0.2308,"color":"#f0892a"},{"offset":0.25,"color":"#ffffff"},{"offset":0.2692,"color":"#f0892a"},{"offset":0.2885,"color":"#ffffff"},{"offset":0.3077,"color":"#f0892a"},{"offset":0.3269,"color":"#ffffff"},{"offset":0.3462,"color":"#f0892a"},{"offset":0.3654,"color":"#ffffff"},
     {"offset":0.3846,"color":"#f0892a"},{"offset":0.4038,"color":"#ffffff"},{"offset":0.4231,"color":"#f0892a"},{"offset":0.4423,"color":"#ffffff"},{"offset":0.4615,"color":"#f0892a"},{"offset":0.4808,"color":"#ffffff"},{"offset":0.5,"color":"#f0892a"},{"offset":0.5192,"color":"#ffffff"},{"offset":0.5385,"color":"#f0892a"},{"offset":0.5577,"color":"#ffffff"},
     {"offset":0.5769,"color":"#f0892a"},{"offset":0.5962,"color":"#ffffff"},{"offset":0.6154,"color":"#f0892a"},{"offset":0.6346,"color":"#ffffff"},{"offset":0.6538,"color":"#f0892a"},{"offset":0.6731,"color":"#ffffff"},{"offset":0.6923,"color":"#f0892a"},{"offset":0.7115,"color":"#ffffff"},{"offset":0.7308,"color":"#f0892a"},{"offset":0.75,"color":"#ffffff"},
     {"offset":0.7692,"color":"#f0892a"},{"offset":0.7885,"color":"#ffffff"},{"offset":0.8077,"color":"#f0892a"},{"offset":0.8269,"color":"#ffffff"},{"offset":0.8462,"color":"#f0892a"},{"offset":0.8654,"color":"#ffffff"},{"offset":0.8846,"color":"#f0892a"},{"offset":0.9038,"color":"#ffffff"},{"offset":0.9231,"color":"#f0892a"},{"offset":0.9423,"color":"#ffffff"},
     {"offset":0.9615,"color":"#f0892a"},{"offset":0.9808,"color":"#ffffff"},{"offset":1,"color":"#f0892a"}]}},
    "encoding": {"x": {"field": "t0", "type": "quantitative", "title": "Time From Start of Last Infusion (days)"}, "x2": {"field": "t1"}, "y": {"field": "lo", "type": "quantitative", "title": "Serum Ramucirumab Concentration (μg ml⁻¹)"}, "y2": {"field": "hi"}}},
   {"data": {"name": "box2"}, "transform": [{"filter": "datum.t1 - datum.t0 >= 1.5 && datum.t1 - datum.t0 < 3"}],
    "mark": {"type": "rect", "stroke": "#f28e2b", "strokeWidth": 1.5, "fill": {"gradient": "linear", "x1": 0, "y1": 0, "x2": 1, "y2": 1, "stops": [
     {"offset":0,"color":"#f0892a"},{"offset":0.0357,"color":"#ffffff"},{"offset":0.0714,"color":"#f0892a"},{"offset":0.1071,"color":"#ffffff"},{"offset":0.1429,"color":"#f0892a"},{"offset":0.1786,"color":"#ffffff"},{"offset":0.2143,"color":"#f0892a"},{"offset":0.25,"color":"#ffffff"},{"offset":0.2857,"color":"#f0892a"},{"offset":0.3214,"color":"#ffffff"},
     {"offset":0.3571,"color":"#f0892a"},{"offset":0.3929,"color":"#ffffff"},{"offset":0.4286,"color":"#f0892a"},{"offset":0.4643,"color":"#ffffff"},{"offset":0.5,"color":"#f0892a"},{"offset":0.5357,"color":"#ffffff"},{"offset":0.5714,"color":"#f0892a"},{"offset":0.6071,"color":"#ffffff"},{"offset":0.6429,"color":"#f0892a"},{"offset":0.6786,"color":"#ffffff"},
     {"offset":0.7143,"color":"#f0892a"},{"offset":0.75,"color":"#ffffff"},{"offset":0.7857,"color":"#f0892a"},{"offset":0.8214,"color":"#ffffff"},{"offset":0.8571,"color":"#f0892a"},{"offset":0.8929,"color":"#ffffff"},{"offset":0.9286,"color":"#f0892a"},{"offset":0.9643,"color":"#ffffff"},{"offset":1,"color":"#f0892a"}]}},
    "encoding": {"x": {"field": "t0", "type": "quantitative", "title": "Time From Start of Last Infusion (days)"}, "x2": {"field": "t1"}, "y": {"field": "lo", "type": "quantitative", "title": "Serum Ramucirumab Concentration (μg ml⁻¹)"}, "y2": {"field": "hi"}}},
   {"data": {"name": "box2"}, "transform": [{"filter": "datum.t1 - datum.t0 < 1.5"}],
    "mark": {"type": "rect", "stroke": "#f28e2b", "strokeWidth": 1.5, "fill": {"gradient": "linear", "x1": 0, "y1": 0, "x2": 1, "y2": 1, "stops": [
     {"offset":0,"color":"#f0892a"},{"offset":0.0714,"color":"#ffffff"},{"offset":0.1429,"color":"#f0892a"},{"offset":0.2143,"color":"#ffffff"},{"offset":0.2857,"color":"#f0892a"},{"offset":0.3571,"color":"#ffffff"},{"offset":0.4286,"color":"#f0892a"},{"offset":0.5,"color":"#ffffff"},{"offset":0.5714,"color":"#f0892a"},{"offset":0.6429,"color":"#ffffff"},
     {"offset":0.7143,"color":"#f0892a"},{"offset":0.7857,"color":"#ffffff"},{"offset":0.8571,"color":"#f0892a"},{"offset":0.9286,"color":"#ffffff"},{"offset":1,"color":"#f0892a"}]}},
    "encoding": {"x": {"field": "t0", "type": "quantitative", "title": "Time From Start of Last Infusion (days)"}, "x2": {"field": "t1"}, "y": {"field": "lo", "type": "quantitative", "title": "Serum Ramucirumab Concentration (μg ml⁻¹)"}, "y2": {"field": "hi"}}},
   {"data": {"name": "box2"}, "mark": {"type": "rule", "color": "#f28e2b", "strokeWidth": 3.5},
    "encoding": {"x": {"field": "t0", "type": "quantitative", "title": "Time From Start of Last Infusion (days)"}, "x2": {"field": "t1"}, "y": {"field": "med", "type": "quantitative", "title": "Serum Ramucirumab Concentration (μg ml⁻¹)"}}},
   {"data": {"name": "obs2"}, "mark": {"type": "rule", "color": "#1a1a1a", "strokeWidth": 2.4, "strokeDash": [6, 2, 2, 2]},
    "encoding": {"x": {"field": "t0", "type": "quantitative", "title": "Time From Start of Last Infusion (days)"}, "x2": {"field": "t1"}, "y": {"field": "p5", "type": "quantitative", "title": "Serum Ramucirumab Concentration (μg ml⁻¹)"}}},
   {"data": {"name": "obs2"}, "mark": {"type": "rule", "color": "#1a1a1a", "strokeWidth": 2.4, "strokeDash": [6, 2, 2, 2]},
    "encoding": {"x": {"field": "t0", "type": "quantitative", "title": "Time From Start of Last Infusion (days)"}, "x2": {"field": "t1"}, "y": {"field": "p50", "type": "quantitative", "title": "Serum Ramucirumab Concentration (μg ml⁻¹)"}}},
   {"data": {"name": "obs2"}, "mark": {"type": "rule", "color": "#1a1a1a", "strokeWidth": 2.4, "strokeDash": [6, 2, 2, 2]},
    "encoding": {"x": {"field": "t0", "type": "quantitative", "title": "Time From Start of Last Infusion (days)"}, "x2": {"field": "t1"}, "y": {"field": "p95", "type": "quantitative", "title": "Serum Ramucirumab Concentration (μg ml⁻¹)"}}},
   {"data": {"name": "pts2"}, "mark": {"type": "circle", "size": 20, "color": "#1c1c1c", "opacity": 1},
    "encoding": {"x": {"field": "t", "type": "quantitative", "title": "Time From Start of Last Infusion (days)"}, "y": {"field": "c", "type": "quantitative", "title": "Serum Ramucirumab Concentration (μg ml⁻¹)"}}}
  ]
 }
]
}
